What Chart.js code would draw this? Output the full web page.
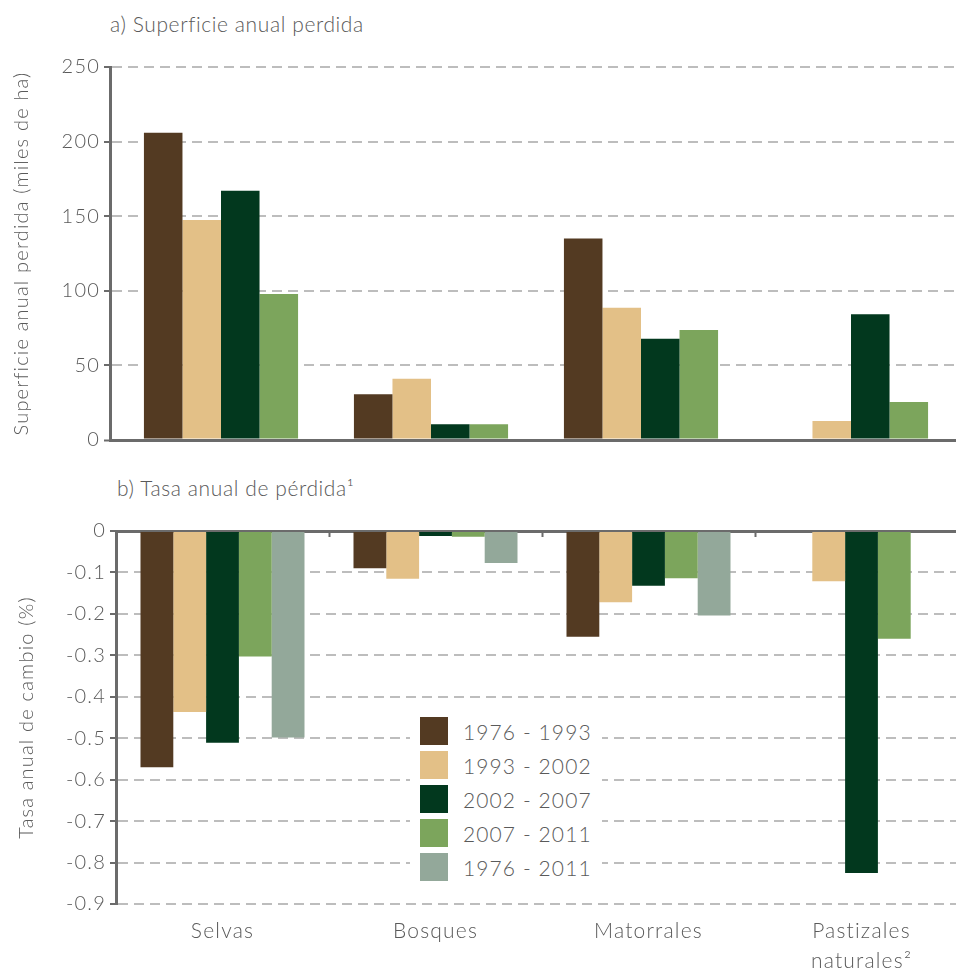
<!DOCTYPE html>
<html>
<head>
<meta charset="utf-8">
<script src="https://cdn.jsdelivr.net/npm/chart.js@4.4.1/dist/chart.umd.min.js"></script>
<style>
  body { margin: 0; background: #fff; overflow: hidden; font-family: Lato, sans-serif; color: #5a5a5a; }
  #wrap { position: relative; width: 956px; height: 969px; overflow: hidden; }
  canvas { position: absolute; left: 0; }
  #c1 { top: 0; }
  #c2 { top: 460px; }
  .ttl { position: absolute; font-size: 21px; font-weight: 300; line-height: 26px; letter-spacing: 0.6px; white-space: nowrap; }
  #legend { position: absolute; left: 410px; top: 708px; width: 182px; padding: 9px 0 4px 10px; background: #fff; }
  .row { display: flex; align-items: center; height: 28px; margin-bottom: 6px; }
  .sw { width: 28px; height: 28px; margin-right: 15px; flex: none; }
  .lb { font-size: 21px; font-weight: 300; letter-spacing: 1.1px; white-space: nowrap; }
</style>
</head>
<body>
<div id="wrap">
  <div class="ttl" style="left:110px; top:11px;">a) Superficie anual perdida</div>
  <canvas id="c1" width="956" height="460"></canvas>
  <div class="ttl" style="left:117px; top:475px;">b) Tasa anual de pérdida¹</div>
  <canvas id="c2" width="968" height="509"></canvas>
  <div id="legend"></div>
</div>
<script>
// categories and periods
const categories = ['Selvas', 'Bosques', 'Matorrales', ['Pastizales', 'naturales²']];
const periods = ['1976 - 1993', '1993 - 2002', '2002 - 2007', '2007 - 2011', '1976 - 2011'];

// a) superficie anual perdida (miles de ha)
const sup7693 = [206, 30.6, 135, null];
const sup9302 = [147.4, 41.1, 88.6, 12.7];
const sup0207 = [167.1, 10.5, 67.9, 84.2];
const sup0711 = [97.9, 10.5, 73.7, 25.5];

// b) tasa anual de cambio (%)
const tasa7693 = [-0.57, -0.09, -0.255, null];
const tasa9302 = [-0.437, -0.115, -0.172, -0.121];
const tasa0207 = [-0.511, -0.012, -0.132, -0.825];
const tasa0711 = [-0.303, -0.014, -0.114, -0.26];
const tasa7611 = [-0.498, -0.077, -0.204, null];

const colors = ['#533a22', '#e3c087', '#02381e', '#7ca55c', '#93a89a'];
const axisGray = '#6b6b6b';
const gridGray = '#bdbdbd';
const textGray = '#5a5a5a';
const family = 'Lato, sans-serif';

const topSeries = [sup7693, sup9302, sup0207, sup0711];
const botSeries = [tasa7693, tasa9302, tasa0207, tasa0711, tasa7611];

// a little tracking on canvas text, like the printed figure
const spacing = {
    id: 'spacing',
    beforeDraw(chart) { chart.ctx.letterSpacing = '1.2px'; }
};

// categories of the top chart start a bit right of the y axis
const shiftCategories = {
    id: 'shiftCategories',
    afterLayout(chart) {
        const x = chart.scales.x;
        x.left += 6;
        x.configure();
    }
};

// top chart
new Chart(document.getElementById('c1'), {
    type: 'bar',
    data: {
        labels: categories,
        datasets: topSeries.map((s, i) => ({
            label: periods[i],
            data: s,
            backgroundColor: colors[i],
            categoryPercentage: 0.734,
            barPercentage: 1
        }))
    },
    plugins: [spacing, shiftCategories],
    options: {
        responsive: false,
        animation: false,
        layout: { padding: { top: 67, left: 0, right: 0, bottom: 0 } },
        plugins: { legend: { display: false }, tooltip: { enabled: false } },
        scales: {
            x: {
                grid: { display: false },
                ticks: { display: false },
                border: { display: false },
                afterFit(s) { s.height = 20; }
            },
            y: {
                min: 0,
                max: 250,
                ticks: { stepSize: 50, color: textGray, font: { size: 20, family, weight: 300 }, padding: 4 },
                grid: {
                    color: c => c.tick.value === 0 ? axisGray : gridGray,
                    lineWidth: c => c.tick.value === 0 ? 3 : 2,
                    tickColor: axisGray,
                    tickLength: 6,
                    tickWidth: 2,
                    tickBorderDash: []
                },
                border: { color: axisGray, width: 3, dash: c => c.tick && c.tick.value === 0 ? [] : [10, 6] },
                title: {
                    display: true,
                    text: 'Superficie anual perdida (miles de ha)',
                    color: textGray,
                    font: { size: 20, family, weight: 300 },
                    padding: { top: 10 }
                },
                afterFit(s) { s.width = 110; }
            }
        }
    }
});

// bottom chart
new Chart(document.getElementById('c2'), {
    type: 'bar',
    data: {
        labels: categories,
        datasets: botSeries.map((s, i) => ({
            label: periods[i],
            data: s,
            backgroundColor: colors[i],
            categoryPercentage: 0.77,
            barPercentage: 1
        }))
    },
    plugins: [spacing],
    options: {
        responsive: false,
        animation: false,
        layout: { padding: { top: 70, left: 0, right: 0, bottom: 0 } },
        plugins: { legend: { display: false }, tooltip: { enabled: false } },
        scales: {
            x: {
                position: 'top',
                grid: {
                    display: true,
                    drawOnChartArea: false,
                    offset: true,
                    tickLength: -6,
                    tickColor: axisGray,
                    tickWidth: 2
                },
                ticks: { display: false },
                border: { color: axisGray, width: 3 },
                afterFit(s) { s.height = 1; }
            },
            x2: {
                type: 'category',
                position: 'bottom',
                labels: categories,
                grid: { display: false, drawTicks: false },
                border: { display: false },
                ticks: {
                    color: textGray,
                    font: { size: 21, family, weight: 300, lineHeight: 1.4 },
                    padding: 13,
                    maxRotation: 0,
                    autoSkip: false
                },
                afterFit(s) { s.height = 65; }
            },
            y: {
                min: -0.9,
                max: 0,
                ticks: {
                    stepSize: 0.1,
                    color: textGray,
                    font: { size: 20, family, weight: 300 },
                    padding: 4,
                    callback: v => Math.abs(v) < 1e-9 ? '0' : v.toFixed(1)
                },
                grid: {
                    color: c => c.tick.value === 0 ? 'rgba(0,0,0,0)' : gridGray,
                    lineWidth: 2,
                    tickColor: axisGray,
                    tickLength: 6,
                    tickWidth: 2,
                    tickBorderDash: []
                },
                border: { color: axisGray, width: 3, dash: [10, 6] },
                title: {
                    display: true,
                    text: 'Tasa anual de cambio (%)',
                    color: textGray,
                    font: { size: 20, family, weight: 300 },
                    padding: { top: 15 }
                },
                afterFit(s) { s.width = 116; }
            }
        }
    }
});

// legend
const legend = document.getElementById('legend');
periods.forEach((p, i) => {
    const row = document.createElement('div');
    row.className = 'row';
    row.innerHTML = '<div class="sw" style="background:' + colors[i] + '"></div><span class="lb">' + p + '</span>';
    legend.appendChild(row);
});
</script>
</body>
</html>
